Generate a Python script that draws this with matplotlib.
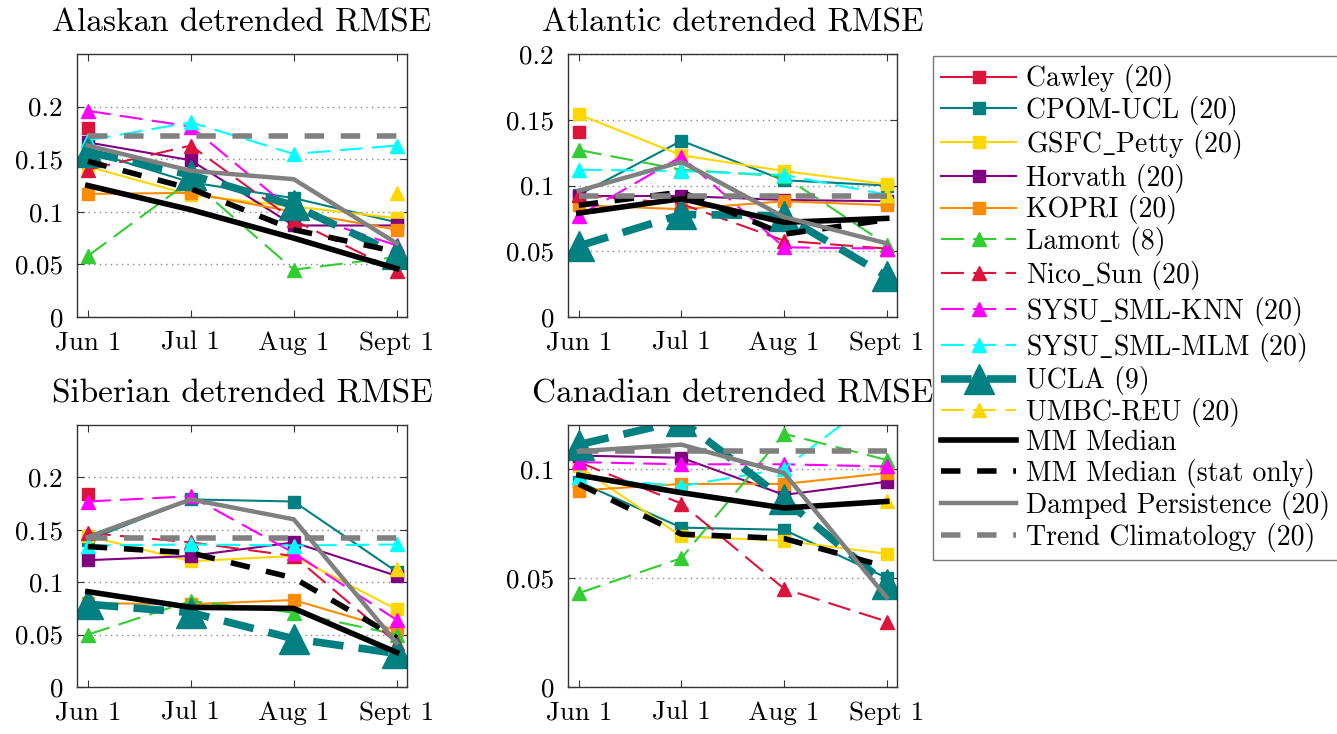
import numpy as np
import matplotlib
matplotlib.use('Agg')
from matplotlib import pyplot as plt
from matplotlib.ticker import FuncFormatter

plt.rcParams['font.family'] = ['cmr10', 'DejaVu Serif']
plt.rcParams['mathtext.fontset'] = 'cm'
plt.rcParams['axes.formatter.use_mathtext'] = True

nan = np.nan
months = ['Jun 1', 'Jul 1', 'Aug 1', 'Sept 1']

names = ['Cawley (20)', 'CPOM-UCL (20)', r'GSFC$\_$Petty (20)', 'Horvath (20)', 'KOPRI (20)',
         'Lamont (8)', r'Nico$\_$Sun (20)', r'SYSU$\_$SML-KNN (20)', r'SYSU$\_$SML-MLM (20)',
         'UCLA (9)', 'UMBC-REU (20)', 'MM Median', 'MM Median (stat only)',
         'Damped Persistence (20)', 'Trend Climatology (20)']

# values per region, one row per entry in names, columns Jun/Jul/Aug/Sept
alaskan = [
    [0.180, nan, nan, nan],
    [0.158, 0.128, 0.113, 0.090],
    [0.143, 0.116, 0.105, 0.094],
    [0.166, 0.149, 0.087, 0.087],
    [0.117, 0.118, 0.100, 0.083],
    [0.058, 0.130, 0.045, 0.057],
    [0.140, 0.163, 0.092, 0.044],
    [0.196, 0.181, 0.100, 0.068],
    [0.168, 0.185, 0.155, 0.163],
    [0.157, 0.135, 0.106, 0.060],
    [nan, nan, nan, 0.118],
    [0.125, 0.102, 0.075, 0.046],
    [0.148, 0.122, 0.083, 0.062],
    [0.163, 0.139, 0.131, 0.070],
    [0.172, 0.172, 0.172, 0.172],
]
atlantic = [
    [0.141, nan, nan, nan],
    [0.093, 0.134, 0.104, 0.100],
    [0.154, 0.123, 0.111, 0.101],
    [0.092, 0.092, 0.089, 0.088],
    [0.085, 0.082, 0.088, 0.085],
    [0.127, 0.112, 0.107, 0.055],
    [0.093, 0.086, 0.058, 0.052],
    [0.077, 0.122, 0.053, 0.052],
    [0.112, 0.111, 0.108, 0.093],
    [0.054, 0.078, 0.077, 0.031],
    [nan, nan, nan, 0.093],
    [0.079, 0.090, 0.072, 0.075],
    [0.085, 0.095, 0.063, 0.074],
    [0.096, 0.118, 0.076, 0.056],
    [0.092, 0.092, 0.092, 0.092],
]
siberian = [
    [0.184, nan, nan, nan],
    [0.140, 0.179, 0.177, 0.110],
    [0.144, 0.120, 0.125, 0.074],
    [0.121, 0.125, 0.138, 0.106],
    [0.080, 0.079, 0.083, 0.054],
    [0.050, 0.082, 0.071, 0.050],
    [0.147, 0.138, 0.125, 0.042],
    [0.177, 0.182, 0.128, 0.064],
    [0.135, 0.136, 0.135, 0.136],
    [0.079, 0.071, 0.046, 0.032],
    [nan, nan, nan, 0.113],
    [0.091, 0.076, 0.075, 0.033],
    [0.134, 0.128, 0.104, 0.047],
    [0.143, 0.179, 0.160, 0.042],
    [0.142, 0.142, 0.142, 0.142],
]
canadian = [
    [0.104, nan, nan, nan],
    [0.094, 0.073, 0.072, 0.050],
    [0.101, 0.069, 0.067, 0.061],
    [0.106, 0.105, 0.088, 0.094],
    [0.090, 0.093, 0.093, 0.098],
    [0.043, 0.059, 0.116, 0.104],
    [0.103, 0.084, 0.045, 0.030],
    [0.103, 0.102, 0.102, 0.101],
    [0.096, 0.092, 0.100, 0.136],
    [0.111, 0.122, 0.086, 0.047],
    [nan, nan, nan, 0.085],
    [0.097, 0.089, 0.082, 0.085],
    [0.093, 0.070, 0.068, 0.055],
    [0.108, 0.111, 0.098, 0.041],
    [0.108, 0.108, 0.108, 0.108],
]

colors = ['#DC143C', '#008080', '#FFD700', '#800080', '#FF8C00', '#32CD32', '#DC143C',
          '#FF00FF', '#00FFFF', '#008080', '#FFD700', 'black', 'black', '#808080', '#808080']

styles = []
for i in range(15):
    if i < 5:
        styles.append(dict(marker='s', ms=8, lw=1.5, ls='-'))
    elif i == 9:
        styles.append(dict(marker='^', ms=21, lw=5.5, dashes=(4, 2)))
    elif i < 11:
        styles.append(dict(marker='^', ms=10, lw=1.5, dashes=(11, 4.5)))
    elif i == 11:
        styles.append(dict(lw=4, ls='-'))
    elif i == 12:
        styles.append(dict(lw=4, dashes=(3.5, 3)))
    elif i == 13:
        styles.append(dict(lw=3.2, ls='-'))
    else:
        styles.append(dict(lw=4, dashes=(3.5, 3)))

W, H = 1337, 734
fig = plt.figure(figsize=(W / 100, H / 100), dpi=100)

panels = [
    ('Alaskan detrended RMSE', alaskan, (77, 54, 407, 317), 0.25, [0, 0.05, 0.1, 0.15, 0.2]),
    ('Atlantic detrended RMSE', atlantic, (568, 54, 897, 317), 0.2, [0, 0.05, 0.1, 0.15, 0.2]),
    ('Siberian detrended RMSE', siberian, (77, 425, 407, 687), 0.25, [0, 0.05, 0.1, 0.15, 0.2]),
    ('Canadian detrended RMSE', canadian, (568, 425, 897, 687), 0.12, [0, 0.05, 0.1]),
]

x = np.arange(1, 5)
handles = []
for title, data, (l, t, r, b), ytop, yt in panels:
    ax = fig.add_axes([l / W, 1 - b / H, (r - l) / W, (b - t) / H])
    hs = []
    for i, name in enumerate(names):
        h, = ax.plot(x, data[i], color=colors[i], label=name, **styles[i])
        hs.append(h)
    handles = hs
    ax.set_xlim(0.895, 4.1)
    ax.set_ylim(0, ytop)
    ax.set_xticks(x)
    ax.set_xticklabels(months)
    ax.set_yticks(yt)
    ax.yaxis.set_major_formatter(FuncFormatter(lambda v, p: '%g' % v))
    ax.yaxis.grid(True, ls=(0, (1, 3)), color='#888888', lw=1)
    ax.tick_params(direction='in', top=True, right=True, labelsize=19.5, length=5,
                   color='#333333', pad=10)
    for s in ax.spines.values():
        s.set_color('#333333')
        s.set_linewidth(1)
    ax.set_title(title, fontsize=24, pad=16)

leg = fig.legend(handles=handles, loc='upper left', bbox_to_anchor=(933 / W, 1 - 56 / H),
                 fontsize=20, frameon=True, fancybox=False, edgecolor='#555555',
                 handlelength=2.7, labelspacing=0.1, borderaxespad=0, borderpad=0.3,
                 handletextpad=0.35)
leg.get_frame().set_linewidth(1)

fig.savefig('out.png', dpi=100)
